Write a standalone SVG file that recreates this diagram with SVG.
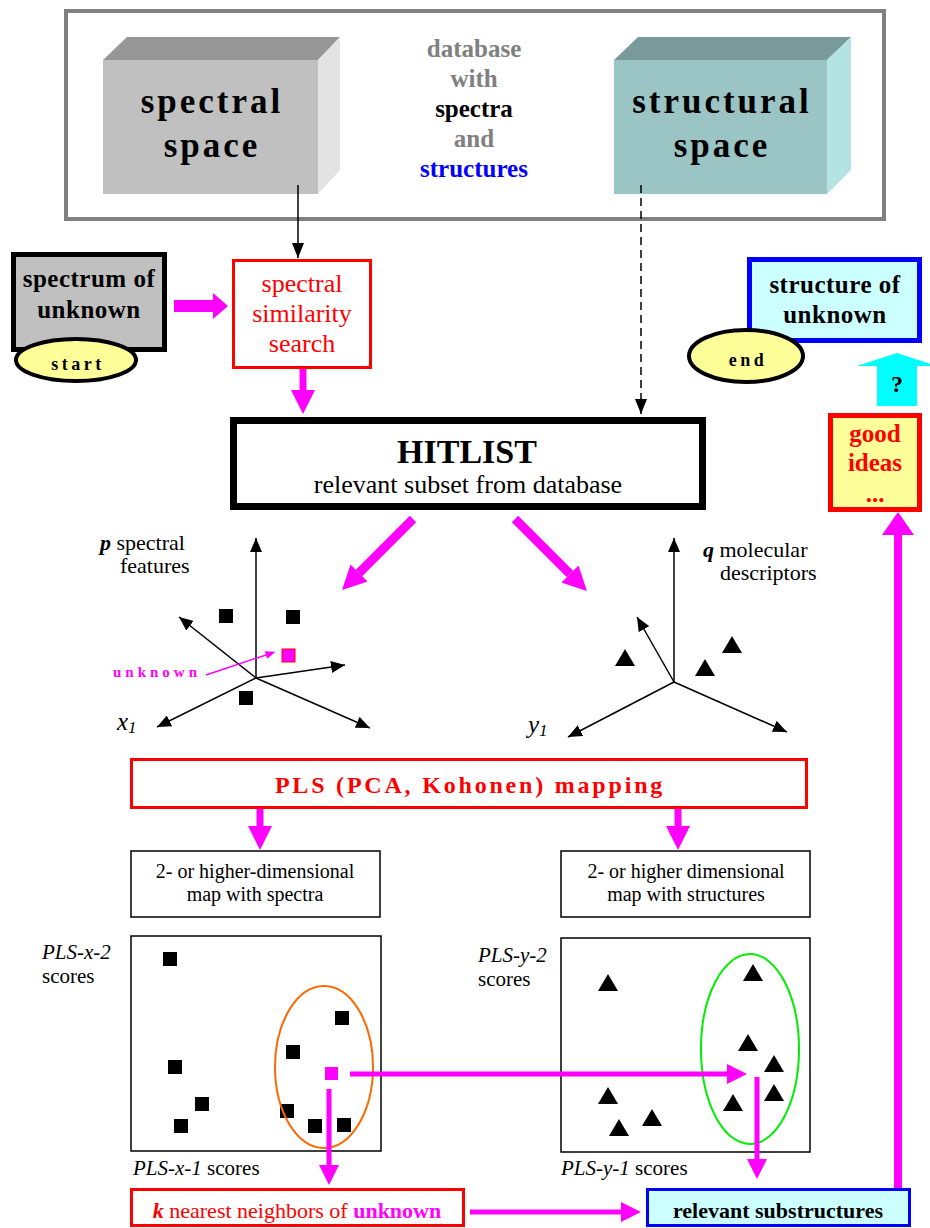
<svg xmlns="http://www.w3.org/2000/svg" xmlns:xlink="http://www.w3.org/1999/xlink" width="930" height="1228" viewBox="0 0 930 1228">
<style>
text{font-family:"Liberation Serif","Times New Roman",serif;}
.b{font-weight:bold;}
.i{font-style:italic;}
.c{text-anchor:middle;}
.ax{stroke:#000;stroke-width:1.5;fill:none;marker-end:url(#ax);}
.mg{stroke:#ff00ff;fill:none;}
.thin{fill:none;stroke-width:1.5;stroke:#000;}
</style>
<defs>
<marker id="ax" viewBox="0 0 14 12" refX="14" refY="6" markerWidth="14" markerHeight="12" markerUnits="userSpaceOnUse" orient="auto"><path d="M0,0 L14,6 L0,12 z" fill="#000"/></marker>
<marker id="bk" viewBox="0 0 15 12" refX="15" refY="6" markerWidth="15" markerHeight="12" markerUnits="userSpaceOnUse" orient="auto"><path d="M0,0 L15,6 L0,12 z" fill="#000"/></marker>
<marker id="mA" viewBox="0 -12 24 24" refX="0" refY="0" markerWidth="24" markerHeight="24" markerUnits="userSpaceOnUse" orient="auto"><path d="M0,-12 L24,0 L0,12 z" fill="#ff00ff"/></marker>
<marker id="mB" viewBox="0 -10 20 20" refX="0" refY="0" markerWidth="20" markerHeight="20" markerUnits="userSpaceOnUse" orient="auto"><path d="M0,-10 L20,0 L0,10 z" fill="#ff00ff"/></marker>
<marker id="mC" viewBox="0 -16 23 32" refX="0" refY="0" markerWidth="23" markerHeight="32" markerUnits="userSpaceOnUse" orient="auto"><path d="M0,-16 L23,0 L0,16 z" fill="#ff00ff"/></marker>
<marker id="mD" viewBox="0 -13 15 26" refX="0" refY="0" markerWidth="15" markerHeight="26" markerUnits="userSpaceOnUse" orient="auto"><path d="M0,-13 L15,0 L0,13 z" fill="#ff00ff"/></marker>
<marker id="mS" viewBox="0 -4 10 8" refX="0" refY="0" markerWidth="10" markerHeight="8" markerUnits="userSpaceOnUse" orient="auto"><path d="M0,-4 L10,0 L0,4 z" fill="#ff00ff"/></marker>
<rect id="sq" x="-7" y="-7" width="14" height="14" fill="#000"/>
<path id="tri" d="M0,-9 L10,8 L-10,8 z" fill="#000"/>
</defs>

<g id="database">
<rect x="66" y="11" width="818" height="208" fill="#fff" stroke="#808080" stroke-width="4"/>
<text class="b c" x="474" y="57" font-size="25" fill="#808080">database</text>
<text class="b c" x="474" y="87" font-size="25" fill="#808080">with</text>
<text class="b c" x="474" y="117" font-size="25" fill="#000">spectra</text>
<text class="b c" x="474" y="147" font-size="25" fill="#808080">and</text>
<text class="b c" x="474" y="177" font-size="25" fill="#0000ff">structures</text>
</g>

<g id="spectral-space">
<polygon points="103,60 127,37 340,37 318,60" fill="#969696"/>
<polygon points="318,60 340,37 340,170 318,194" fill="#e3e3e3"/>
<rect x="103" y="60" width="215" height="134" fill="#c0c0c0"/>
<text class="b c" x="212" y="113" font-size="35" letter-spacing="3">spectral</text>
<text class="b c" x="212" y="157" font-size="35" letter-spacing="3">space</text>
</g>

<g id="structural-space">
<polygon points="614,60 638,37 851,37 827,60" fill="#789a9a"/>
<polygon points="827,60 851,37 851,170 827,194" fill="#b3e3e3"/>
<rect x="614" y="60" width="213" height="134" fill="#9bc4c4"/>
<text class="b c" x="722" y="113" font-size="35" letter-spacing="3">structural</text>
<text class="b c" x="722" y="157" font-size="35" letter-spacing="3">space</text>
</g>

<g id="spectrum-of-unknown">
<rect x="13.5" y="254.5" width="151" height="95" fill="#c0c0c0" stroke="#000" stroke-width="5"/>
<text class="b c" x="89" y="287" font-size="25" letter-spacing="0.5">spectrum of</text>
<text class="b c" x="89" y="318" font-size="25" letter-spacing="0.5">unknown</text>
</g>
<g id="start">
<ellipse cx="76" cy="360" rx="60" ry="21" fill="#ffff99" stroke="#000" stroke-width="4"/>
<text class="b c" x="78" y="370" font-size="18" letter-spacing="3.5">start</text>
</g>

<g id="spectral-similarity-search">
<rect x="233.5" y="260.5" width="137" height="107" fill="#fff" stroke="#ff0000" stroke-width="3"/>
<text class="c" x="302" y="292" font-size="26" fill="#ff0000">spectral</text>
<text class="c" x="302" y="322" font-size="26" fill="#ff0000">similarity</text>
<text class="c" x="302" y="352" font-size="26" fill="#ff0000">search</text>
</g>

<g id="structure-of-unknown">
<rect x="749.5" y="259.5" width="170" height="81" fill="#ccffff" stroke="#0000ff" stroke-width="5"/>
<text class="b c" x="835" y="293" font-size="25" letter-spacing="0.5">structure of</text>
<text class="b c" x="835" y="323" font-size="25" letter-spacing="0.5">unknown</text>
</g>
<g id="end">
<ellipse cx="746" cy="356" rx="57" ry="26" fill="#ffff99" stroke="#000" stroke-width="4"/>
<text class="b c" x="748" y="366" font-size="18" letter-spacing="3.5">end</text>
</g>

<g id="question">
<polygon points="877,406 917,406 917,366 937,366 897,353 857,366 877,366" fill="#00ffff"/>
<text class="b c" x="897" y="392" font-size="24">?</text>
</g>

<g id="good-ideas">
<rect x="830.5" y="415.5" width="89" height="94" fill="#ffff99" stroke="#ff0000" stroke-width="5"/>
<text class="b c" x="875" y="442" font-size="25" fill="#ff0000">good</text>
<text class="b c" x="875" y="471" font-size="25" fill="#ff0000">ideas</text>
<text class="b c" x="875" y="502" font-size="25" fill="#ff0000">...</text>
</g>

<g id="hitlist">
<rect x="233.5" y="420.5" width="469" height="86" fill="#fff" stroke="#000" stroke-width="7"/>
<text class="b c" x="467" y="463" font-size="34">HITLIST</text>
<text class="c" x="468" y="493" font-size="26">relevant subset from database</text>
</g>

<g id="spectral-axes">
<line class="ax" x1="256" y1="678" x2="256" y2="538"/>
<line class="ax" x1="256" y1="678" x2="179" y2="617"/>
<line class="ax" x1="256" y1="678" x2="345" y2="665"/>
<line class="ax" x1="256" y1="678" x2="157" y2="727"/>
<line class="ax" x1="256" y1="678" x2="370" y2="728"/>
<use xlink:href="#sq" x="226" y="616"/>
<use xlink:href="#sq" x="293" y="617"/>
<use xlink:href="#sq" x="246" y="698"/>
<rect x="282" y="649" width="13" height="13" fill="#ff00ff" stroke="#ff0000" stroke-width="1"/>
<text class="b" x="113" y="677" font-size="15" fill="#ff00ff" letter-spacing="4">unknown</text>
<line class="mg" x1="206" y1="675" x2="266" y2="655" stroke-width="1.5" marker-end="url(#mS)"/>
<text x="100" y="550" font-size="22"><tspan class="b i">p</tspan> spectral</text>
<text x="120" y="573" font-size="22">features</text>
<text class="i" x="117" y="730" font-size="25">x<tspan font-size="17" dy="3">1</tspan></text>
</g>

<g id="structural-axes">
<line class="ax" x1="674" y1="682" x2="674" y2="538"/>
<line class="ax" x1="674" y1="682" x2="637" y2="617"/>
<line class="ax" x1="674" y1="682" x2="568" y2="737"/>
<line class="ax" x1="674" y1="682" x2="787" y2="732"/>
<use xlink:href="#tri" x="625" y="658"/>
<use xlink:href="#tri" x="705" y="668"/>
<use xlink:href="#tri" x="732" y="645"/>
<text x="703" y="557" font-size="22"><tspan class="b i">q</tspan> molecular</text>
<text x="720" y="580" font-size="22">descriptors</text>
<text class="i" x="528" y="733" font-size="25">y<tspan font-size="17" dy="3">1</tspan></text>
</g>

<g id="pls-mapping">
<rect x="131.5" y="759.5" width="675" height="48" fill="#fff" stroke="#ff0000" stroke-width="3"/>
<text class="b c" x="470" y="793" font-size="24" fill="#ff0000" letter-spacing="2.8">PLS (PCA, Kohonen) mapping</text>
</g>

<g id="map-spectra">
<rect x="131" y="851" width="249" height="66" fill="#fff" stroke="#000" stroke-width="1.5"/>
<text class="c" x="255" y="878" font-size="20">2- or higher-dimensional</text>
<text class="c" x="255" y="901" font-size="20">map with spectra</text>
</g>
<g id="map-structures">
<rect x="561" y="851" width="249" height="66" fill="#fff" stroke="#000" stroke-width="1.5"/>
<text class="c" x="686" y="878" font-size="20">2- or higher dimensional</text>
<text class="c" x="686" y="901" font-size="20">map with structures</text>
</g>

<g id="plot-x">
<rect x="131" y="936" width="250" height="215" fill="#fff" stroke="#000" stroke-width="1.5"/>
<use xlink:href="#sq" x="170" y="959"/>
<use xlink:href="#sq" x="342" y="1018"/>
<use xlink:href="#sq" x="293" y="1052"/>
<use xlink:href="#sq" x="175" y="1067"/>
<use xlink:href="#sq" x="202" y="1104"/>
<use xlink:href="#sq" x="181" y="1126"/>
<use xlink:href="#sq" x="287" y="1111"/>
<use xlink:href="#sq" x="315" y="1126"/>
<use xlink:href="#sq" x="344" y="1125"/>
<rect x="325" y="1067" width="13" height="13" fill="#ff00ff"/>
<ellipse cx="324" cy="1067" rx="49" ry="81" fill="none" stroke="#ff6600" stroke-width="2"/>
<text class="i" x="42" y="959" font-size="21">PLS-x-2</text>
<text x="42" y="983" font-size="21">scores</text>
<text x="133" y="1175" font-size="21"><tspan class="i">PLS-x-1</tspan> scores</text>
</g>

<g id="plot-y">
<rect x="561" y="938" width="249" height="214" fill="#fff" stroke="#000" stroke-width="1.5"/>
<use xlink:href="#tri" x="608" y="983"/>
<use xlink:href="#tri" x="753" y="973"/>
<use xlink:href="#tri" x="748" y="1043"/>
<use xlink:href="#tri" x="774" y="1064"/>
<use xlink:href="#tri" x="774" y="1093"/>
<use xlink:href="#tri" x="733" y="1103"/>
<use xlink:href="#tri" x="608" y="1096"/>
<use xlink:href="#tri" x="652" y="1118"/>
<use xlink:href="#tri" x="619" y="1128"/>
<ellipse cx="750" cy="1049" rx="49" ry="95" fill="none" stroke="#00ee00" stroke-width="2"/>
<text class="i" x="478" y="962" font-size="21">PLS-y-2</text>
<text x="478" y="986" font-size="21">scores</text>
<text x="561" y="1175" font-size="21"><tspan class="i">PLS-y-1</tspan> scores</text>
</g>

<g id="k-nearest">
<rect x="131.5" y="1189.5" width="332" height="36" fill="#fff" stroke="#ff0000" stroke-width="3"/>
<text class="c" x="297" y="1218" font-size="22" fill="#ff0000"><tspan class="b i">k</tspan> nearest neighbors of <tspan class="b" fill="#ff00ff">unknown</tspan></text>
</g>
<g id="relevant-substructures">
<rect x="647.5" y="1189.5" width="262" height="36" fill="#ccffff" stroke="#0000ff" stroke-width="3"/>
<text class="b c" x="778" y="1218" font-size="22">relevant substructures</text>
</g>

<g id="connectors">
<line class="thin" x1="298" y1="185" x2="298" y2="258" marker-end="url(#bk)"/>
<line class="thin" x1="641" y1="185" x2="641" y2="414" stroke-dasharray="8,5" marker-end="url(#bk)"/>
<line class="mg" x1="174" y1="306" x2="213" y2="306" stroke-width="12" marker-end="url(#mD)"/>
<line class="mg" x1="303" y1="369" x2="303" y2="390" stroke-width="7" marker-end="url(#mA)"/>
<line class="mg" x1="413" y1="519" x2="359" y2="573" stroke-width="9" marker-end="url(#mA)"/>
<line class="mg" x1="515" y1="519" x2="570" y2="574" stroke-width="9" marker-end="url(#mA)"/>
<line class="mg" x1="260" y1="809" x2="260" y2="826" stroke-width="7" marker-end="url(#mA)"/>
<line class="mg" x1="678" y1="809" x2="678" y2="826" stroke-width="7" marker-end="url(#mA)"/>
<line class="mg" x1="350" y1="1074" x2="727" y2="1074" stroke-width="5" marker-end="url(#mB)"/>
<line class="mg" x1="329" y1="1089" x2="329" y2="1165" stroke-width="5" marker-end="url(#mB)"/>
<line class="mg" x1="757" y1="1077" x2="757" y2="1159" stroke-width="5" marker-end="url(#mB)"/>
<line class="mg" x1="470" y1="1212" x2="621" y2="1212" stroke-width="5" marker-end="url(#mB)"/>
<line class="mg" x1="898" y1="1188" x2="898" y2="535" stroke-width="8" marker-end="url(#mC)"/>
</g>
</svg>
